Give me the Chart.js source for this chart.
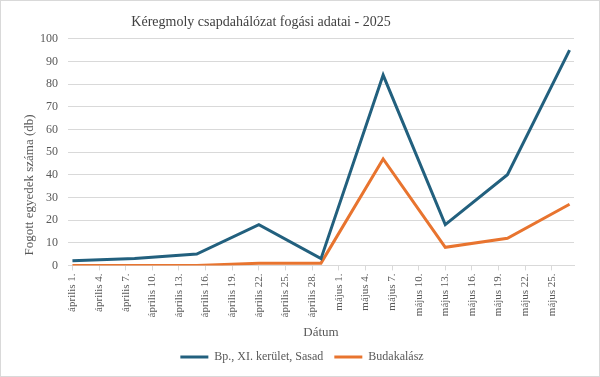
<!DOCTYPE html>
<html>
<head>
<meta charset="utf-8">
<script src="https://cdn.jsdelivr.net/npm/chart.js@4"></script>
<style>
  body { margin: 0; background: #fff; }
  #wrap { width: 600px; height: 377px; }
</style>
</head>
<body>
<div id="wrap"><canvas id="chart" width="600" height="377"></canvas></div>
<script>
// napok április 1-től számolva (heti mintavétel)
const sampleDays = [0, 7, 14, 21, 28, 35, 42, 49, 56];
const sasad = [2, 3, 5, 18, 3, 84, 18, 40, 95];
const budakalasz = [0, 0, 0, 1, 1, 47, 8, 12, 27];

// tengely feliratok, 3 naponta
const tickDays = [0, 3, 6, 9, 12, 15, 18, 21, 24, 27, 30, 33, 36, 39, 42, 45, 48, 51, 54];
const tickLabels = [
  "április 1.", "április 4.", "április 7.", "április 10.", "április 13.",
  "április 16.", "április 19.", "április 22.", "április 25.", "április 28.",
  "május 1.", "május 4.", "május 7.", "május 10.", "május 13.",
  "május 16.", "május 19.", "május 22.", "május 25."
];

const yTitle = "Fogott egyedek száma (db)";

const serif = "'Liberation Serif', 'Times New Roman', serif";
const gridColor = "#d9d9d9";
const textColor = "#595959";

const toPoints = (vals) => vals.map((v, i) => ({ x: sampleDays[i], y: v }));

// keret + cím igazítás + függőleges tengelycím
const decor = {
  id: "decor",
  afterLayout(chart) {
    // a cím az eredetin balra tolva áll
    chart.titleBlock.left = 0;
    chart.titleBlock.right = 522;
  },
  afterDraw(chart) {
    const ctx = chart.ctx;
    ctx.save();
    ctx.strokeStyle = "#d9d9d9";
    ctx.lineWidth = 1;
    ctx.strokeRect(0.5, 0.5, chart.width - 1, chart.height - 1);

    ctx.translate(30, 185);
    ctx.rotate(-Math.PI / 2);
    ctx.fillStyle = textColor;
    ctx.font = "13px " + serif;
    ctx.textAlign = "center";
    ctx.textBaseline = "middle";
    ctx.fillText(yTitle, 0, 0);
    ctx.restore();
  },
};

new Chart(document.getElementById("chart").getContext("2d"), {
  type: "line",
  data: {
    datasets: [
      {
        label: "Bp., XI. kerület, Sasad",
        data: toPoints(sasad),
        borderColor: "#22607e",
        backgroundColor: "#22607e",
        borderWidth: 3,
        pointRadius: 0,
        tension: 0,
      },
      {
        label: "Budakalász",
        data: toPoints(budakalasz),
        borderColor: "#e8742f",
        backgroundColor: "#e8742f",
        borderWidth: 3,
        pointRadius: 0,
        tension: 0,
      },
    ],
  },
  plugins: [decor],
  options: {
    responsive: false,
    animation: false,
    layout: { padding: { left: 30, right: 26, top: 4, bottom: 4 } },
    plugins: {
      title: {
        display: true,
        text: "Kéregmoly csapdahálózat fogási adatai - 2025",
        color: "#404040",
        font: { family: serif, size: 14, weight: "normal" },
        padding: { top: 10, bottom: 8 },
      },
      legend: {
        position: "bottom",
        labels: {
          usePointStyle: true,
          pointStyle: "line",
          pointStyleWidth: 28,
          color: textColor,
          font: { family: serif, size: 12 },
          padding: 11,
        },
      },
      tooltip: { enabled: false },
    },
    scales: {
      x: {
        type: "linear",
        min: -0.5,
        max: 56.5,
        afterBuildTicks: (scale) => {
          scale.ticks = tickDays.map((d) => ({ value: d }));
        },
        ticks: {
          autoSkip: false,
          minRotation: 90,
          maxRotation: 90,
          color: textColor,
          font: { family: serif, size: 11 },
          callback: (value, index) => tickLabels[index],
        },
        grid: {
          drawOnChartArea: false,
          color: gridColor,
          tickLength: 5,
        },
        border: { color: gridColor },
        title: {
          display: true,
          text: "Dátum",
          color: textColor,
          font: { family: serif, size: 13 },
          padding: { top: 4, bottom: 0 },
        },
      },
      y: {
        min: 0,
        max: 100,
        ticks: {
          stepSize: 10,
          color: textColor,
          font: { family: serif, size: 12 },
          padding: 10,
        },
        grid: { color: gridColor, drawTicks: false },
        border: { display: false },
      },
    },
  },
});
</script>
</body>
</html>
